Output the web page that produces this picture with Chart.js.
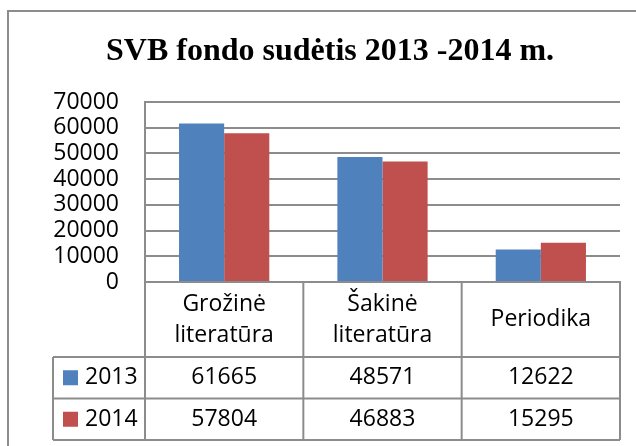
<!DOCTYPE html>
<html>
<head>
<meta charset="utf-8">
<script src="https://cdn.jsdelivr.net/npm/chart.js@4.4.1/dist/chart.umd.min.js"></script>
<style>
html, body { margin: 0; padding: 0; background: #fff; }
#wrap { width: 636px; height: 446px; position: relative; }
</style>
</head>
<body>
<div id="wrap"><canvas id="grafikFondas"></canvas></div>
<script>
const categories = [['Grožinė', 'literatūra'], ['Šakinė', 'literatūra'], ['Periodika']];
const years = ['2013', '2014'];
const values2013 = [61665, 48571, 12622];
const values2014 = [57804, 46883, 15295];
const yTicks = [0, 10000, 20000, 30000, 40000, 50000, 60000, 70000];
const titleText = 'SVB fondo sudėtis 2013 -2014 m.';

const colors = ['#4F81BD', '#C0504D'];
const lineColor = '#8c8c8c';
const textFont = '23px "Open Sans"';

// title, outer frame and the data table under the axis
const fondasPlugin = {
    id: 'fondasPlugin',
    beforeDraw(chart) {
        const ctx = chart.ctx;
        ctx.save();
        ctx.fillStyle = '#fff';
        ctx.fillRect(0, 0, chart.width, chart.height);
        ctx.strokeStyle = lineColor;
        ctx.lineWidth = 2;
        ctx.strokeRect(8, 11, 700, 500);
        ctx.fillStyle = '#000';
        ctx.font = 'bold 32px "Liberation Serif"';
        ctx.textAlign = 'center';
        ctx.textBaseline = 'middle';
        ctx.fillText(titleText, 330, 52);
        ctx.restore();
    },
    afterDraw(chart) {
        const ctx = chart.ctx;
        const xScale = chart.scales.x;
        const area = chart.chartArea;
        const step = (area.right - area.left) / categories.length;
        const headerBottom = area.bottom + 75;
        const rowH = 41.5;
        const tableBottom = headerBottom + rowH * years.length;
        const tableLeft = 53;

        ctx.save();
        ctx.strokeStyle = lineColor;
        ctx.lineWidth = 2;
        ctx.beginPath();
        // horizontal lines
        for (let r = 0; r <= years.length; r++) {
            const y = headerBottom + rowH * r;
            ctx.moveTo(tableLeft, y);
            ctx.lineTo(area.right, y);
        }
        // vertical lines
        for (let i = 0; i <= categories.length; i++) {
            const x = i < categories.length ? xScale.getPixelForValue(i) - step / 2 : xScale.getPixelForValue(i - 1) + step / 2;
            ctx.moveTo(x, area.bottom);
            ctx.lineTo(x, tableBottom);
        }
        ctx.moveTo(tableLeft, headerBottom);
        ctx.lineTo(tableLeft, tableBottom);
        ctx.stroke();

        ctx.fillStyle = '#000';
        ctx.font = textFont;
        ctx.textAlign = 'center';
        ctx.textBaseline = 'middle';
        const headerMid = (area.bottom + headerBottom) / 2;
        categories.forEach((lines, i) => {
            const cx = xScale.getPixelForValue(i);
            lines.forEach((line, k) => {
                ctx.fillText(line, cx, headerMid + (k - (lines.length - 1) / 2) * 31);
            });
        });

        const rows = [values2013, values2014];
        rows.forEach((vals, r) => {
            const cy = headerBottom + rowH * r + rowH / 2;
            vals.forEach((v, i) => {
                ctx.fillText(String(v), xScale.getPixelForValue(i), cy);
            });
            ctx.fillStyle = colors[r];
            ctx.fillRect(63, cy - 7.5, 15, 15);
            ctx.fillStyle = '#000';
            ctx.textAlign = 'left';
            ctx.fillText(years[r], 85, cy);
            ctx.textAlign = 'center';
        });
        ctx.restore();
    }
};

const grafik = document.getElementById('grafikFondas').getContext('2d');
new Chart(grafik, {
    type: 'bar',
    data: {
        labels: categories.map(c => c.join(' ')),
        datasets: [{
            label: years[0],
            backgroundColor: colors[0],
            data: values2013
        }, {
            label: years[1],
            backgroundColor: colors[1],
            data: values2014
        }]
    },
    options: {
        responsive: true,
        maintainAspectRatio: false,
        animation: false,
        datasets: {
            bar: { categoryPercentage: 0.57, barPercentage: 1.0 }
        },
        layout: {
            padding: { left: 0, top: 102, right: 16, bottom: 164 }
        },
        plugins: {
            legend: { display: false },
            title: { display: false },
            tooltip: { enabled: false }
        },
        scales: {
            x: {
                grid: { display: false },
                border: { display: true, color: lineColor, width: 2 },
                ticks: { display: false },
                afterFit: scale => { scale.height = 0; }
            },
            y: {
                min: 0,
                max: yTicks[yTicks.length - 1],
                afterBuildTicks: scale => { scale.ticks = yTicks.map(v => ({ value: v })); },
                afterFit: scale => { scale.width = 145; },
                grid: { color: lineColor, lineWidth: 2, drawTicks: false },
                border: { display: true, color: lineColor, width: 2 },
                ticks: {
                    autoSkip: false,
                    padding: 26,
                    color: '#000',
                    font: { family: 'Open Sans', size: 23 },
                    callback: value => String(value)
                }
            }
        }
    },
    plugins: [fondasPlugin]
});
</script>
</body>
</html>
